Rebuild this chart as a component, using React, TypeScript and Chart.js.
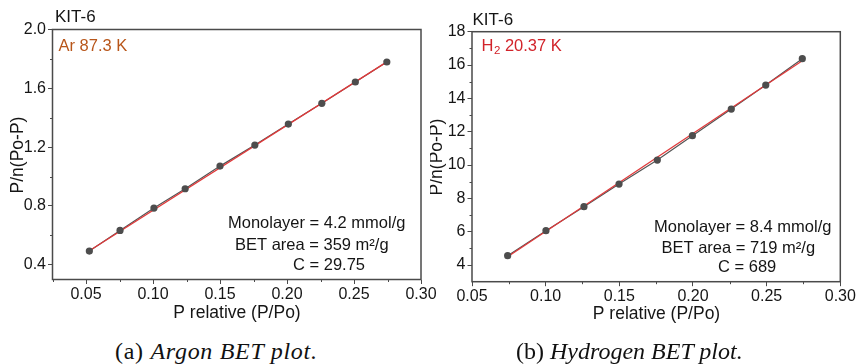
import React, { useEffect, useRef } from "react";
import { Chart, registerables } from "chart.js";

Chart.register(...registerables);

// Argon (87.3 K) BET points
const argonP = [0.0525, 0.0754, 0.1007, 0.124, 0.15, 0.176, 0.201, 0.226, 0.251, 0.2745];
const argonY = [0.493, 0.634, 0.786, 0.917, 1.071, 1.214, 1.357, 1.498, 1.643, 1.779];
const argonFitP = [0.0525, 0.2745];
const argonFitY = [0.495, 1.78];
const argonXTicks = [0.05, 0.1, 0.15, 0.2, 0.25, 0.3];
const argonXMinor = [0.025, 0.075, 0.125, 0.175, 0.225, 0.275];
const argonYTicks = [0.4, 0.8, 1.2, 1.6, 2.0];
const argonYMinor = [0.6, 1.0, 1.4, 1.8];
const argonNotes = ["Monolayer = 4.2 mmol/g", "BET area = 359 m\u00B2/g", "C = 29.75"];

// Hydrogen (20.37 K) BET points
const hydrogenP = [0.0742, 0.1002, 0.126, 0.1498, 0.1758, 0.1996, 0.226, 0.2494, 0.2742];
const hydrogenY = [4.56, 6.06, 7.5, 8.86, 10.3, 11.76, 13.36, 14.8, 16.38];
const hydrogenFitP = [0.0742, 0.2742];
const hydrogenFitY = [4.5, 16.26];
const hydrogenXTicks = [0.05, 0.1, 0.15, 0.2, 0.25, 0.3];
const hydrogenXMinor = [0.075, 0.125, 0.175, 0.225, 0.275];
const hydrogenYTicks = [4, 6, 8, 10, 12, 14, 16, 18];
const hydrogenYMinor = [5, 7, 9, 11, 13, 15, 17];
const hydrogenNotes = ["Monolayer = 8.4 mmol/g", "BET area = 719 m\u00B2/g", "C = 689"];

const SANS = '"Liberation Sans", Arial, sans-serif';
const FRAME = "#4a4a4a";
const INK = "#151515";

type PanelSpec = {
  width: number;
  height: number;
  area: { left: number; top: number; right: number; bottom: number };
  xMin: number;
  xMax: number;
  yMin: number;
  yMax: number;
  xs: number[];
  ys: number[];
  fitX: number[];
  fitY: number[];
  xTicks: number[];
  xMinor: number[];
  yTicks: number[];
  yMinor: number[];
  yDigits: number;
  notes: string[];
  notePos: number[][];
  gas: string;
  gasSub: string;
  gasRest: string;
  gasColor: string;
  gasPos: number[];
  kitPos: number[];
  yTitlePos: number[];
  xTitlePos: number[];
};

function text(ctx: CanvasRenderingContext2D, s: string, x: number, y: number, size: number, color: string, align: CanvasTextAlign = "left") {
  ctx.font = `${size}px ${SANS}`;
  ctx.fillStyle = color;
  ctx.textAlign = align;
  ctx.textBaseline = "middle";
  ctx.fillText(s, x, y);
}

function makeDecor(spec: PanelSpec) {
  return {
    id: "bet-decor",
    afterDraw(chart: any) {
      const ctx: CanvasRenderingContext2D = chart.ctx;
      const a = chart.chartArea;
      const xs = chart.scales.x;
      const ys = chart.scales.y;
      ctx.save();
      // frame
      ctx.strokeStyle = FRAME;
      ctx.lineWidth = 1.5;
      ctx.strokeRect(a.left, a.top, a.right - a.left, a.bottom - a.top);
      // minor ticks
      ctx.lineWidth = 1;
      ctx.beginPath();
      for (const v of spec.xMinor) {
        const px = Math.round(xs.getPixelForValue(v)) + 0.5;
        ctx.moveTo(px, a.bottom);
        ctx.lineTo(px, a.bottom + 2.5);
      }
      for (const v of spec.yMinor) {
        const py = Math.round(ys.getPixelForValue(v)) + 0.5;
        ctx.moveTo(a.left, py);
        ctx.lineTo(a.left - 2.5, py);
      }
      ctx.stroke();

      // header and gas label
      text(ctx, "KIT-6", spec.kitPos[0], spec.kitPos[1], 17, INK);
      let gx = spec.gasPos[0];
      const gy = spec.gasPos[1];
      text(ctx, spec.gas, gx, gy, 16.5, spec.gasColor);
      ctx.font = `16.5px ${SANS}`;
      gx += ctx.measureText(spec.gas).width;
      if (spec.gasSub) {
        text(ctx, spec.gasSub, gx + 0.5, gy + 5, 11.5, spec.gasColor);
        ctx.font = `11.5px ${SANS}`;
        gx += ctx.measureText(spec.gasSub).width + 0.5;
      }
      text(ctx, spec.gasRest, gx, gy, 16.5, spec.gasColor);

      // fit results
      spec.notes.forEach((n, i) => {
        text(ctx, n, spec.notePos[i][0], spec.notePos[i][1], 16.5, INK);
      });

      // axis titles
      text(ctx, "P relative (P/Po)", spec.xTitlePos[0], spec.xTitlePos[1], 17.5, INK, "center");
      ctx.save();
      ctx.translate(spec.yTitlePos[0], spec.yTitlePos[1]);
      ctx.rotate(-Math.PI / 2);
      text(ctx, "P/n(Po-P)", 0, 0, 17.5, INK, "center");
      ctx.restore();
      ctx.restore();
    },
  };
}

function BetPanel({ spec, left }: { spec: PanelSpec; left: number }) {
  const ref = useRef<HTMLCanvasElement | null>(null);
  useEffect(() => {
    if (!ref.current) return;
    const points = spec.xs.map((x, i) => ({ x, y: spec.ys[i] }));
    const fit = spec.fitX.map((x, i) => ({ x, y: spec.fitY[i] }));
    const chart = new Chart(ref.current, {
      type: "scatter",
      data: {
        datasets: [
          {
            data: points,
            showLine: false,
            pointRadius: 3.6,
            pointBackgroundColor: "#4d4d4d",
            pointBorderColor: "#4d4d4d",
            pointBorderWidth: 0,
            order: 0,
          },
          {
            data: fit,
            showLine: true,
            borderColor: "#e0393a",
            borderWidth: 1.3,
            pointRadius: 0,
            order: 1,
          },
          {
            data: points,
            showLine: true,
            borderColor: "#555555",
            borderWidth: 1.2,
            pointRadius: 0,
            order: 2,
          },
        ],
      },
      options: {
        responsive: false,
        animation: false,
        events: [],
        layout: {
          padding: {
            left: 0,
            top: spec.area.top,
            right: spec.width - spec.area.right,
            bottom: 0,
          },
        },
        plugins: { legend: { display: false }, tooltip: { enabled: false } },
        scales: {
          x: {
            type: "linear",
            min: spec.xMin,
            max: spec.xMax,
            afterBuildTicks: (s: any) => {
              s.ticks = spec.xTicks.map((v) => ({ value: v }));
            },
            afterFit: (s: any) => {
              s.height = spec.height - spec.area.bottom;
            },
            grid: { drawOnChartArea: false, drawTicks: true, tickLength: 4.5, color: FRAME, lineWidth: 1 },
            border: { display: false },
            ticks: {
              autoSkip: false,
              maxRotation: 0,
              padding: 1,
              color: INK,
              font: { family: SANS, size: 16 },
              callback: (v: any) => Number(v).toFixed(2),
            },
          },
          y: {
            type: "linear",
            min: spec.yMin,
            max: spec.yMax,
            afterBuildTicks: (s: any) => {
              s.ticks = spec.yTicks.map((v) => ({ value: v }));
            },
            afterFit: (s: any) => {
              s.width = spec.area.left;
            },
            grid: { drawOnChartArea: false, drawTicks: true, tickLength: 4.5, color: FRAME, lineWidth: 1 },
            border: { display: false },
            ticks: {
              autoSkip: false,
              padding: 2,
              color: INK,
              font: { family: SANS, size: 16 },
              callback: (v: any) => Number(v).toFixed(spec.yDigits),
            },
          },
        },
      },
      plugins: [makeDecor(spec)],
    } as any);
    return () => chart.destroy();
  }, [spec]);
  return (
    <canvas
      ref={ref}
      width={spec.width}
      height={spec.height}
      style={{ position: "absolute", left, top: 0, width: spec.width, height: spec.height }}
    />
  );
}

const argonSpec: PanelSpec = {
  width: 445,
  height: 330,
  area: { left: 52.5, top: 29.5, right: 421, bottom: 279.5 },
  xMin: 0.025,
  xMax: 0.3,
  yMin: 0.3,
  yMax: 2.0,
  xs: argonP,
  ys: argonY,
  fitX: argonFitP,
  fitY: argonFitY,
  xTicks: argonXTicks,
  xMinor: argonXMinor,
  yTicks: argonYTicks,
  yMinor: argonYMinor,
  yDigits: 1,
  notes: argonNotes,
  notePos: [
    [228, 223],
    [235, 245],
    [293, 265.5],
  ],
  gas: "Ar 87.3 K",
  gasSub: "",
  gasRest: "",
  gasColor: "#b8561a",
  gasPos: [58.5, 46],
  kitPos: [55, 17.5],
  yTitlePos: [18, 155],
  xTitlePos: [237, 313.5],
};

const hydrogenSpec: PanelSpec = {
  width: 430,
  height: 330,
  area: { left: 42, top: 31.7, right: 410.3, bottom: 281.7 },
  xMin: 0.05,
  xMax: 0.3,
  yMin: 3,
  yMax: 18,
  xs: hydrogenP,
  ys: hydrogenY,
  fitX: hydrogenFitP,
  fitY: hydrogenFitY,
  xTicks: hydrogenXTicks,
  xMinor: hydrogenXMinor,
  yTicks: hydrogenYTicks,
  yMinor: hydrogenYMinor,
  yDigits: 0,
  notes: hydrogenNotes,
  notePos: [
    [224, 227],
    [231.5, 248.5],
    [288, 267],
  ],
  gas: "H",
  gasSub: "2",
  gasRest: " 20.37 K",
  gasColor: "#d2232a",
  gasPos: [51.5, 46],
  kitPos: [42.5, 20.5],
  yTitlePos: [7, 157],
  xTitlePos: [226.5, 314],
};

const captionStyle: React.CSSProperties = {
  position: "absolute",
  top: 338,
  fontFamily: '"Liberation Serif", "Times New Roman", serif',
  fontSize: 24,
  lineHeight: "26px",
  color: "#111",
  whiteSpace: "nowrap",
};

export default function App() {
  return (
    <div style={{ position: "fixed", left: 0, top: 0, width: 860, height: 364, background: "#fff", overflow: "hidden" }}>
      <BetPanel spec={argonSpec} left={0} />
      <BetPanel spec={hydrogenSpec} left={430} />
      <div style={{ ...captionStyle, left: 115, letterSpacing: "0.7px" }}>
        (a) <i>Argon BET plot.</i>
      </div>
      <div style={{ ...captionStyle, left: 516 }}>
        (b) <i>Hydrogen BET plot.</i>
      </div>
    </div>
  );
}
